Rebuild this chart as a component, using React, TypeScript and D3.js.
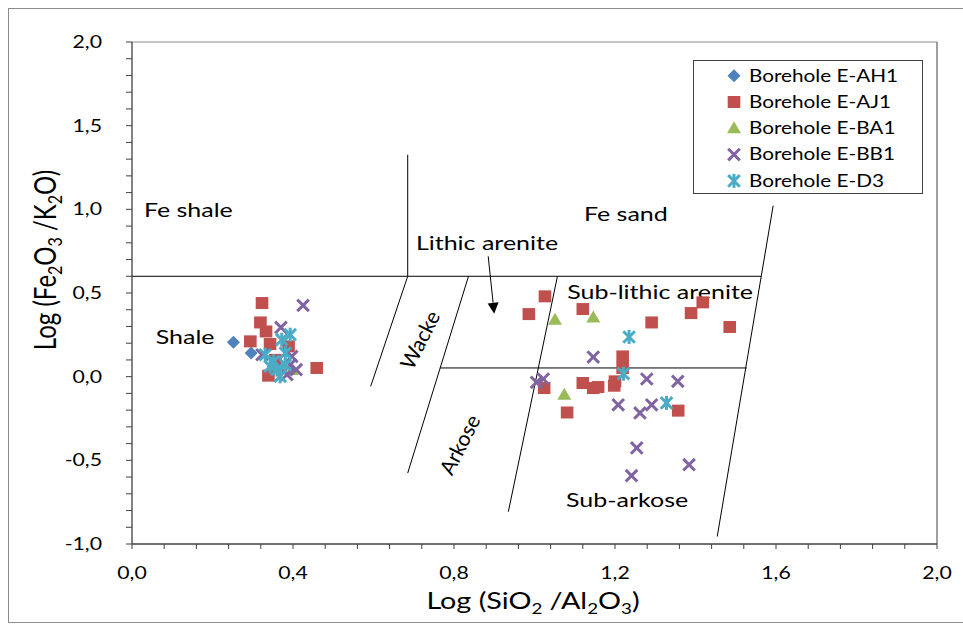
import React from 'react';
import * as d3 from 'd3';

// chart size and plot frame (pixels)
const W = 963;
const H = 625;
const PLOT = { left: 132, top: 42, right: 937, bottom: 544 };
const FONT = 'Lato, "Open Sans", sans-serif';
const SX = 1.25; // horizontal stretch of the reference text

// ---- data (log SiO2/Al2O3, log Fe2O3/K2O) ----
const boreholeAH1: [number, number][] = [
  [0.252, 0.205], [0.296, 0.141],
];
const boreholeAJ1: [number, number][] = [
  [0.323, 0.44], [0.319, 0.324], [0.333, 0.27], [0.294, 0.211], [0.343, 0.195],
  [0.389, 0.181], [0.356, 0.1], [0.339, 0.006], [0.459, 0.052],
  [1.026, 0.48], [0.986, 0.374], [1.12, 0.404], [1.291, 0.324], [1.389, 0.38],
  [1.418, 0.444], [1.485, 0.297], [1.219, 0.121], [1.219, 0.052], [1.024, -0.068],
  [1.12, -0.038], [1.146, -0.068], [1.158, -0.062], [1.198, -0.054], [1.2, -0.028],
  [1.081, -0.214], [1.357, -0.203],
];
const boreholeBA1: [number, number][] = [
  [0.397, 0.04], [1.051, 0.34], [1.146, 0.354], [1.074, -0.108],
];
const boreholeBB1: [number, number][] = [
  [0.425, 0.426], [0.37, 0.294], [0.323, 0.131], [0.397, 0.121], [0.408, 0.042],
  [0.385, 0.012], [0.393, 0.071],
  [1.146, 0.117], [1.005, -0.034], [1.022, -0.014], [1.279, -0.014], [1.356, -0.028],
  [1.208, -0.168], [1.262, -0.217], [1.291, -0.168], [1.254, -0.426], [1.241, -0.592],
  [1.384, -0.526],
];
const boreholeD3: [number, number][] = [
  [0.393, 0.251], [0.372, 0.221], [0.331, 0.131], [0.381, 0.141], [0.352, 0.091],
  [0.36, 0.042], [0.368, 0.002], [0.343, 0.061], [0.381, 0.071],
  [1.235, 0.237], [1.221, 0.018], [1.328, -0.157],
];

const seriesNames = ['Borehole E-AH1', 'Borehole E-AJ1', 'Borehole E-BA1', 'Borehole E-BB1', 'Borehole E-D3'];
const seriesData = [boreholeAH1, boreholeAJ1, boreholeBA1, boreholeBB1, boreholeD3];
const seriesKinds = ['diamond', 'square', 'triangle', 'x', 'star'];
const seriesColors = ['#4F81BD', '#C0504D', '#9BBB59', '#8064A2', '#4BACC6'];

// classification field boundaries [x1, y1, x2, y2]
const boundaries: [number, number, number, number][] = [
  [0, 0.6, 1.563, 0.6],
  [0.685, 0.6, 0.685, 1.326],
  [0.685, 0.6, 0.593, -0.058],
  [0.836, 0.6, 0.685, -0.576],
  [1.057, 0.6, 0.935, -0.807],
  [0.765, 0.052, 1.527, 0.052],
  [1.593, 1.022, 1.454, -0.955],
];

// field names [text, x, y, angle]
const fieldLabels: [string, number, number, number][] = [
  ['Fe shale', 0.14, 0.998, 0],
  ['Shale', 0.132, 0.239, 0],
  ['Fe sand', 1.227, 0.972, 0],
  ['Lithic arenite', 0.882, 0.799, 0],
  ['Sub-lithic arenite', 1.312, 0.508, 0],
  ['Sub-arkose', 1.23, -0.735, 0],
  ['Wacke', 0.716, 0.219, -63],
  ['Arkose', 0.815, -0.407, -63],
];
const arrowFrom: [number, number] = [0.885, 0.719];
const arrowTo: [number, number] = [0.9, 0.376];

const xTicks = [0, 0.4, 0.8, 1.2, 1.6, 2.0];
const yTicks = [-1.0, -0.5, 0, 0.5, 1.0, 1.5, 2.0];
const fmt = (v: number) => v.toFixed(1).replace('.', ',');

const x = d3.scaleLinear().domain([0, 2]).range([PLOT.left, PLOT.right]);
const y = d3.scaleLinear().domain([-1, 2]).range([PLOT.bottom, PLOT.top]);

function Marker({ kind, cx, cy, color }: { kind: string; cx: number; cy: number; color: string }) {
  if (kind === 'diamond') {
    const r = 6.5;
    return <polygon points={`${cx},${cy - r} ${cx + r},${cy} ${cx},${cy + r} ${cx - r},${cy}`} fill={color} />;
  }
  if (kind === 'square') {
    return <rect x={cx - 6.3} y={cy - 6} width={12.6} height={12} fill={color} />;
  }
  if (kind === 'triangle') {
    return <polygon points={`${cx},${cy - 7} ${cx + 7},${cy + 5} ${cx - 7},${cy + 5}`} fill={color} />;
  }
  const r = 5.8;
  const lines = [
    <line key="a" x1={cx - r} y1={cy - r} x2={cx + r} y2={cy + r} />,
    <line key="b" x1={cx - r} y1={cy + r} x2={cx + r} y2={cy - r} />,
  ];
  if (kind === 'star') lines.push(<line key="c" x1={cx} y1={cy - 7} x2={cx} y2={cy + 7} />);
  return <g stroke={color} strokeWidth={3}>{lines}</g>;
}

export default function App() {
  const xMinor = d3.range(0, 2.0001, 0.08);
  const yMinor = d3.range(-1, 2.0001, 0.1);

  // arrow head
  const ax1 = x(arrowFrom[0]), ay1 = y(arrowFrom[1]);
  const ax2 = x(arrowTo[0]), ay2 = y(arrowTo[1]);
  const ang = Math.atan2(ay2 - ay1, ax2 - ax1);
  const hl = 11, hw = 5.5;
  const bx = ax2 - hl * Math.cos(ang), by = ay2 - hl * Math.sin(ang);
  const head = [
    [ax2, ay2],
    [bx + hw * Math.sin(ang), by - hw * Math.cos(ang)],
    [bx - hw * Math.sin(ang), by + hw * Math.cos(ang)],
  ].map((p) => p.join(',')).join(' ');

  return (
    <div style={{ position: 'fixed', left: 0, top: 0 }}>
      <svg width={W} height={H} style={{ display: 'block', fontFamily: FONT }}>
        <rect x={0} y={0} width={W} height={H} fill="#fff" />
        <rect x={8.5} y={8.5} width={W + 10} height={614} fill="none" stroke="#8c8c8c" strokeWidth={1} />

        {/* frame */}
        <line x1={PLOT.left} x2={PLOT.right} y1={PLOT.top} y2={PLOT.top} stroke="#8c8c8c" />
        <line x1={PLOT.right} x2={PLOT.right} y1={PLOT.top} y2={PLOT.bottom} stroke="#404040" />

        {/* field boundaries */}
        <g stroke="#000" strokeWidth={1}>
          {boundaries.map((b, i) => (
            <line key={i} x1={x(b[0])} y1={y(b[1])} x2={x(b[2])} y2={y(b[3])} />
          ))}
          <line x1={ax1} y1={ay1} x2={bx} y2={by} />
        </g>
        <polygon points={head} fill="#000" />

        {fieldLabels.map(([t, lx, ly, a]) => (
          <text
            key={t}
            transform={`translate(${x(lx)},${y(ly)}) ${a ? `rotate(${a})` : `scale(${SX},1)`}`}
            textAnchor="middle"
            dy="0.35em"
            fontSize={a ? 21 : 20}
            fill="#000"
          >
            {t}
          </text>
        ))}

        {/* points */}
        {seriesData.map((pts, si) => (
          <g key={si}>
            {pts.map((p, i) => (
              <Marker key={i} kind={seriesKinds[si]} cx={x(p[0])} cy={y(p[1])} color={seriesColors[si]} />
            ))}
          </g>
        ))}

        {/* axes */}
        <g stroke="#404040" strokeWidth={1.3}>
          <line x1={PLOT.left} x2={PLOT.left} y1={PLOT.top} y2={PLOT.bottom} />
          <line x1={PLOT.left} x2={PLOT.right} y1={PLOT.bottom} y2={PLOT.bottom} />
        </g>
        <g stroke="#404040" strokeWidth={1}>
          {xMinor.map((v, i) => (
            <line key={i} x1={x(v)} x2={x(v)} y1={PLOT.bottom} y2={PLOT.bottom + 5} />
          ))}
          {yMinor.map((v, i) => (
            <line key={i} x1={PLOT.left - 6} x2={PLOT.left} y1={y(v)} y2={y(v)} />
          ))}
        </g>
        <g fontSize={17} fill="#000">
          {xTicks.map((v) => (
            <text key={v} transform={`translate(${x(v)},${579}) scale(${SX},1)`} textAnchor="middle">
              {fmt(v)}
            </text>
          ))}
          {yTicks.map((v) => (
            <text key={v} transform={`translate(${102},${y(v)}) scale(${SX},1)`} textAnchor="end" dy="0.35em">
              {fmt(v)}
            </text>
          ))}
        </g>

        {/* axis titles */}
        <text transform={`translate(${533},${609}) scale(${SX},1)`} textAnchor="middle" fontSize={23}>
          Log (SiO<tspan dy={5} fontSize={15}>2</tspan>
          <tspan dy={-5}> /Al</tspan>
          <tspan dy={5} fontSize={15}>2</tspan>
          <tspan dy={-5}>O</tspan>
          <tspan dy={5} fontSize={15}>3</tspan>
          <tspan dy={-5}>)</tspan>
        </text>
        <text transform={`translate(${56},${260}) scale(${SX},1) rotate(-90)`} textAnchor="middle" fontSize={24}>
          Log (Fe<tspan dy={5} fontSize={16}>2</tspan>
          <tspan dy={-5}>O</tspan>
          <tspan dy={5} fontSize={16}>3</tspan>
          <tspan dy={-5}> /K</tspan>
          <tspan dy={5} fontSize={16}>2</tspan>
          <tspan dy={-5}>O)</tspan>
        </text>

        {/* legend */}
        <rect x={693.5} y={60.5} width={229} height={133} fill="#fff" stroke="#404040" />
        {seriesNames.map((name, i) => {
          const ly = 75.7 + i * 26.3;
          return (
            <g key={name}>
              <Marker kind={seriesKinds[i]} cx={734} cy={ly} color={seriesColors[i]} />
              <text transform={`translate(${749},${ly}) scale(${SX},1)`} dy="0.35em" fontSize={16.6}>
                {name}
              </text>
            </g>
          );
        })}
      </svg>
    </div>
  );
}
